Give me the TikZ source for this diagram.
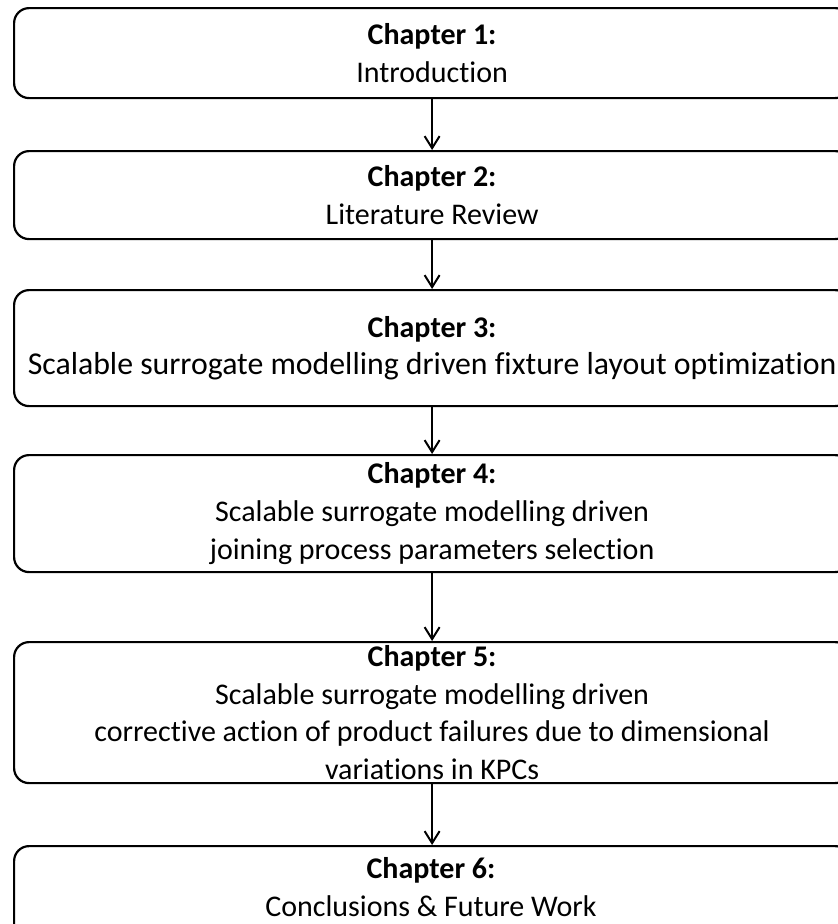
\documentclass[tikz,border=0pt]{standalone}
\usepackage{fontspec}
\setmainfont{Carlito}[Ligatures=NoCommon]
\usetikzlibrary{arrows.meta}
\begin{document}
\begin{tikzpicture}[x=1pt,y=-1pt,
  chapbox/.style={draw=black, line width=2.2pt, rounded corners=15pt,
    minimum width=836pt, inner sep=0pt, anchor=north west},
  chaptext/.style={align=center, inner sep=0pt,
    font=\fontsize{30}{37.7}\selectfont},
  flow/.style={line width=2pt,
    -{Straight Barb[length=12pt,width=15pt,line width=2pt]}}]
\useasboundingbox (0,0) rectangle (838,924);
\clip (0,0) rectangle (838,924);

% chapter frames
\node[chapbox, minimum height=90pt]  (b1) at (13,7)   {};
\node[chapbox, minimum height=88pt]  (b2) at (13,150) {};
\node[chapbox, minimum height=116pt] (b3) at (13,289) {};
\node[chapbox, minimum height=117pt] (b4) at (13,454) {};
\node[chapbox, minimum height=141pt] (b5) at (13,641) {};
\node[chapbox, minimum height=110pt] (b6) at (13,845) {};

% chapter titles
\node[chaptext] (t1) at (b1.center)
  {\textbf{Chapter 1:}\\Introduction};
\node[chaptext] (t2) at (b2.center)
  {\textbf{Chapter 2:}\\Literature Review};
\node[chaptext] (t3) at (b3.center)
  {\textbf{Chapter 3:}\\{\fontsize{31.8}{37.7}\selectfont Scalable surrogate modelling driven fixture layout optimization}};
\node[chaptext] (t4) at (b4.center)
  {\textbf{Chapter 4:}\\Scalable surrogate modelling driven\\joining process parameters selection};
\node[chaptext] (t5) at (b5.center)
  {\textbf{Chapter 5:}\\Scalable surrogate modelling driven\\corrective action of product failures due to dimensional\\variations in KPCs};
\node[chaptext] (t6) at (431,887)
  {\textbf{Chapter 6:}\\Conclusions \& Future Work};

% reading order
\draw[flow] (b1.south) -- (b2.north);
\draw[flow] (b2.south) -- (b3.north);
\draw[flow] (b3.south) -- (b4.north);
\draw[flow] (b4.south) -- (b5.north);
\draw[flow] (b5.south) -- (b6.north);
\end{tikzpicture}
\end{document}
